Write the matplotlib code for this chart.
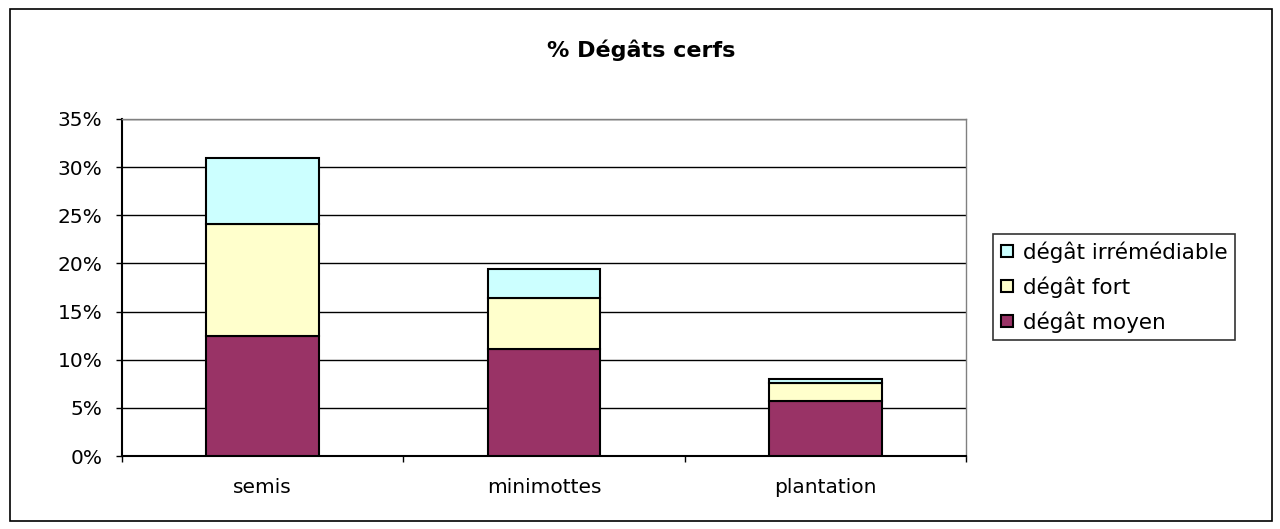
import matplotlib
matplotlib.use("Agg")
import matplotlib.pyplot as plt
from matplotlib.patches import Rectangle
from matplotlib.ticker import FuncFormatter, FixedLocator
import numpy as np

plt.rcParams['font.family'] = ['DejaVu Sans']

categories = ['semis', 'minimottes', 'plantation']
moyen = [12.5, 11.1, 5.7]
fort = [11.6, 5.3, 1.9]
irremediable = [6.9, 3.0, 0.4]
series_labels = ['dégât moyen', 'dégât fort', 'dégât irrémédiable']
colors = ['#993366', '#FFFFCC', '#CCFFFF']
title = '% Dégâts cerfs'

FS = 14.5

fig = plt.figure(figsize=(12.8, 5.29), dpi=100)
fig.patches.append(Rectangle((10/1280, 8/529), 1262/1280, 512/529, transform=fig.transFigure,
                             fill=False, edgecolor='black', linewidth=1.2))

ax = fig.add_axes([122/1280, 73/529, 844/1280, 337/529])
x = np.arange(len(categories))
bottom = np.zeros(len(categories))
handles = []
for vals, lab, col in zip([moyen, fort, irremediable], series_labels, colors):
    b = ax.bar(x, vals, width=0.4, bottom=bottom, color=col, edgecolor='black',
               linewidth=1.5, label=lab, zorder=3)
    handles.append(b)
    bottom += np.array(vals)

ax.set_xlim(-0.5, len(categories) - 0.5)
ax.set_ylim(0, 35)
ax.set_yticks(np.arange(0, 36, 5))
ax.yaxis.set_major_formatter(FuncFormatter(lambda v, p: f'{int(round(v))}%'))
ax.grid(axis='y', color='black', linewidth=1.0, zorder=0)
ax.set_axisbelow(True)

ax.set_xticks(x)
ax.set_xticklabels(categories)
ax.xaxis.set_minor_locator(FixedLocator(np.arange(-0.5, len(categories), 1.0)))
ax.tick_params(axis='x', which='major', length=0, pad=16, labelsize=FS)
ax.tick_params(axis='x', which='minor', length=4.5, width=1, direction='out', color='black')
ax.tick_params(axis='y', length=4, width=1, direction='out', pad=10, labelsize=FS)

for s in ['top', 'right']:
    ax.spines[s].set_color('#808080')
    ax.spines[s].set_linewidth(1)
for s in ['left', 'bottom']:
    ax.spines[s].set_color('black')
    ax.spines[s].set_linewidth(1.5)

fig.text(641/1280, 1 - 50/529, title, ha='center', va='center',
         fontsize=16, fontweight='bold')

leg = fig.legend(handles=handles[::-1], labels=series_labels[::-1],
                 loc='center left', bbox_to_anchor=(993/1280, 1 - 287/529),
                 frameon=True, fancybox=False, edgecolor='black', fontsize=15.5,
                 handlelength=0.6, handleheight=0.5, handletextpad=0.45,
                 borderpad=0.35, labelspacing=0.62, borderaxespad=0)
leg.get_frame().set_linewidth(1.2)

fig.savefig('out.png', dpi=100)
